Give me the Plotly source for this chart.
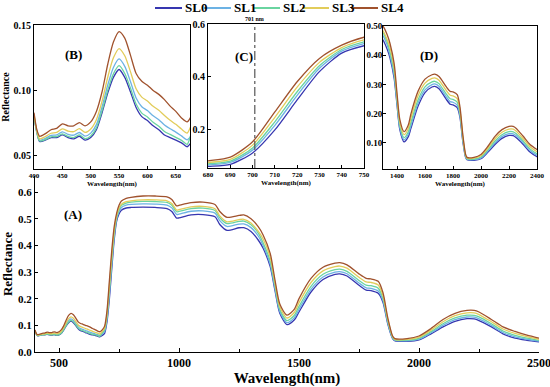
import plotly.graph_objects as go

wavelength = [400, 405, 410, 420, 430, 440, 450, 460, 470, 480, 490, 500, 510, 520, 530, 540, 550, 560, 570, 580,
              590, 600, 610, 620, 630, 640, 650, 660, 670, 680, 690, 700, 710, 720, 730, 740, 750, 760, 780, 800,
              850, 900, 950, 970, 990, 1000, 1050, 1100, 1150, 1170, 1200, 1250, 1270, 1300, 1330, 1350, 1380, 1400,
              1420, 1450, 1480, 1500, 1550, 1600, 1650, 1670, 1700, 1750, 1780, 1800, 1830, 1850, 1870, 1890, 1900,
              1950, 2000, 2050, 2100, 2150, 2200, 2230, 2250, 2300, 2350, 2400, 2450, 2500]

SL0 = [0.080, 0.068, 0.061, 0.062, 0.064, 0.064, 0.066, 0.064, 0.063, 0.065, 0.062, 0.064, 0.070, 0.083, 0.098, 0.110,
       0.116, 0.110, 0.099, 0.087, 0.080, 0.077, 0.073, 0.070, 0.066, 0.064, 0.062, 0.060, 0.057, 0.062, 0.070, 0.113,
       0.200, 0.313, 0.420, 0.490, 0.518, 0.532, 0.540, 0.542, 0.543, 0.542, 0.538, 0.527, 0.502, 0.503, 0.514, 0.515,
       0.507, 0.478, 0.456, 0.466, 0.466, 0.452, 0.420, 0.390, 0.320, 0.230, 0.145, 0.103, 0.120, 0.150, 0.225, 0.272,
       0.291, 0.293, 0.285, 0.250, 0.232, 0.230, 0.220, 0.186, 0.105, 0.050, 0.042, 0.040, 0.045, 0.068, 0.094, 0.115,
       0.125, 0.124, 0.118, 0.095, 0.068, 0.052, 0.044, 0.038]

SL1 = [0.081, 0.069, 0.062, 0.0634, 0.0657, 0.066, 0.0684, 0.0665, 0.0658, 0.0679, 0.0651, 0.0674, 0.0739, 0.0875,
       0.1042, 0.1176, 0.1241, 0.1184, 0.1068, 0.0943, 0.0876, 0.0846, 0.0806, 0.0776, 0.0736, 0.0707, 0.0682, 0.0653,
       0.0623, 0.0673, 0.0768, 0.1235, 0.217, 0.3303, 0.4325, 0.4975, 0.526, 0.5422, 0.5508, 0.5534, 0.5556, 0.5549,
       0.5512, 0.5405, 0.5158, 0.5171, 0.5278, 0.5291, 0.5208, 0.4927, 0.4707, 0.4798, 0.4804, 0.4664, 0.435, 0.400,
       0.330, 0.238, 0.152, 0.110, 0.128, 0.160, 0.2352, 0.2812, 0.2994, 0.3014, 0.2934, 0.2586, 0.2408, 0.2388, 0.229,
       0.1932, 0.1096, 0.052, 0.0436, 0.042, 0.048, 0.072, 0.0996, 0.121, 0.1312, 0.1304, 0.1244, 0.1006, 0.0732, 0.057,
       0.0478, 0.0408]

SL2 = [0.080, 0.068, 0.0614, 0.0625, 0.0646, 0.0647, 0.0669, 0.0649, 0.064, 0.066, 0.0631, 0.0652, 0.0714, 0.0846,
       0.1002, 0.1127, 0.1189, 0.113, 0.1018, 0.0896, 0.0827, 0.0797, 0.0757, 0.0727, 0.0687, 0.0664, 0.0642, 0.0619,
       0.0589, 0.0715, 0.0822, 0.1319, 0.2306, 0.344, 0.4425, 0.5035, 0.5324, 0.5497, 0.5587, 0.5618, 0.5648, 0.5644,
       0.5609, 0.5504, 0.5259, 0.5274, 0.5379, 0.5394, 0.5309, 0.5035, 0.4815, 0.4899, 0.491, 0.477, 0.446, 0.411,
       0.341, 0.2468, 0.1597, 0.1177, 0.1368, 0.171, 0.2464, 0.2913, 0.3086, 0.3106, 0.3026, 0.2681, 0.2505, 0.2485,
       0.2389, 0.2011, 0.1147, 0.0542, 0.0454, 0.0442, 0.0513, 0.0764, 0.1058, 0.1276, 0.138, 0.1374, 0.1314, 0.1068,
       0.0789, 0.0625, 0.052, 0.0439]

SL3 = [0.082, 0.069, 0.063, 0.0648, 0.0673, 0.0679, 0.0707, 0.069, 0.0685, 0.0708, 0.068, 0.0706, 0.0777, 0.0918,
       0.1101, 0.1249, 0.132, 0.1265, 0.1144, 0.1013, 0.0949, 0.0919, 0.0879, 0.0849, 0.0809, 0.0772, 0.0741, 0.0705,
       0.0675, 0.0767, 0.0889, 0.1424, 0.2476, 0.3613, 0.455, 0.511, 0.5404, 0.5544, 0.5638, 0.5671, 0.5707, 0.5704,
       0.567, 0.5567, 0.5324, 0.534, 0.5444, 0.546, 0.5374, 0.5103, 0.4883, 0.4964, 0.4977, 0.4837, 0.453, 0.425,
       0.355, 0.258, 0.1695, 0.1275, 0.148, 0.185, 0.2607, 0.3042, 0.3204, 0.3224, 0.3144, 0.2801, 0.2628, 0.2608,
       0.2515, 0.2112, 0.1211, 0.057, 0.0476, 0.047, 0.0555, 0.082, 0.1136, 0.136, 0.1467, 0.1464, 0.1404, 0.1146,
       0.0862, 0.0695, 0.0573, 0.0478]

SL4 = [0.083, 0.070, 0.065, 0.067, 0.070, 0.071, 0.0745, 0.073, 0.073, 0.0755, 0.073, 0.076, 0.084, 0.099, 0.120, 0.137,
       0.145, 0.140, 0.127, 0.113, 0.107, 0.104, 0.100, 0.097, 0.093, 0.088, 0.084, 0.079, 0.076, 0.083, 0.097, 0.155,
       0.268, 0.382, 0.470, 0.520, 0.550, 0.566, 0.576, 0.580, 0.585, 0.585, 0.582, 0.572, 0.548, 0.550, 0.560, 0.562,
       0.553, 0.527, 0.505, 0.512, 0.514, 0.500, 0.470, 0.440, 0.370, 0.270, 0.180, 0.138, 0.160, 0.200, 0.276, 0.318,
       0.333, 0.335, 0.327, 0.293, 0.276, 0.274, 0.265, 0.222, 0.128, 0.060, 0.050, 0.050, 0.060, 0.088, 0.122, 0.145,
       0.156, 0.156, 0.150, 0.123, 0.094, 0.077, 0.063, 0.052]

series_names = ["SL0", "SL1", "SL2", "SL3", "SL4"]
series_values = [SL0, SL1, SL2, SL3, SL4]
colors = ["#3636b0", "#6cb2e4", "#6ad4a0", "#e2cc5a", "#a0522d"]
marker_wl = 701

FONT = "Liberation Serif"
W, H = 550, 387


def dom_x(a, b):
    return [a / W, b / W]


def dom_y(top, bottom):
    return [1 - bottom / H, 1 - top / H]


fig = go.Figure()
axes = ["", "2", "3", "4"]
for k in axes:
    for name, vals, col in zip(series_names, series_values, colors):
        fig.add_trace(go.Scatter(
            x=wavelength, y=vals, name=name, legendgroup=name, mode="lines",
            xaxis="x" + k, yaxis="y" + k,
            line=dict(color=col, width=1.3, shape="spline", smoothing=0.7),
            showlegend=False, hoverinfo="skip"))

bold = dict(family=FONT, color="black", weight="bold")


def axis_common(**kw):
    d = dict(showline=True, linecolor="black", linewidth=1, ticks="inside", tickcolor="black",
             ticklen=3, showgrid=False, zeroline=False, automargin=False, ticklabeloverflow="allow")
    d.update(kw)
    return d


fig.update_layout(
    width=W, height=H, margin=dict(l=0, r=0, t=0, b=0, autoexpand=False),
    paper_bgcolor="white", plot_bgcolor="white",
    font=dict(family=FONT, color="black"),
    showlegend=False,
    # main panel (A)
    xaxis=axis_common(domain=dom_x(35, 539), range=[400, 2500], anchor="y",
                      tickvals=[500, 1000, 1500, 2000, 2500], ticklen=4,
                      tickfont=dict(size=12, **bold),
                      minor=dict(tickvals=[750, 1250, 1750, 2250], ticks="inside", ticklen=3, tickcolor="black"),
                      title=dict(text="Wavelength(nm)", font=dict(size=15, **bold), standoff=4)),
    yaxis=axis_common(domain=dom_y(176, 352), range=[0, 0.66], anchor="x",
                      tickvals=[0, 0.1, 0.2, 0.3, 0.4, 0.5, 0.6], tickformat=".1f",
                      tickfont=dict(size=11, **bold),
                      title=dict(text="Reflectance", font=dict(size=13, **bold), standoff=4)),
    # inset (B)
    xaxis2=axis_common(domain=dom_x(34, 190), range=[400, 675], anchor="y2", mirror=True,
                       tickvals=[400, 450, 500, 550, 600, 650], tickfont=dict(size=7, **bold),
                       title=dict(text="Wavelength(nm)", font=dict(size=7, **bold), standoff=1)),
    yaxis2=axis_common(domain=dom_y(25, 169), range=[0.04, 0.15], anchor="x2", mirror=True,
                       tickvals=[0.05, 0.10, 0.15], tickformat=".2f", tickfont=dict(size=10, **bold),
                       title=dict(text="Reflectance", font=dict(size=10, **bold), standoff=3)),
    # inset (C)
    xaxis3=axis_common(domain=dom_x(208, 364), range=[680, 750], anchor="y3", mirror=True,
                       tickvals=[680, 690, 700, 710, 720, 730, 740, 750], tickfont=dict(size=7, **bold),
                       title=dict(text="Wavelength(nm)", font=dict(size=7, **bold), standoff=1)),
    yaxis3=axis_common(domain=dom_y(24, 168), range=[0.056, 0.6], anchor="x3", mirror=True,
                       tickvals=[0.2, 0.4, 0.6], tickformat=".1f", tickfont=dict(size=10, **bold)),
    # inset (D)
    xaxis4=axis_common(domain=dom_x(383, 537), range=[1300, 2400], anchor="y4", mirror=True,
                       tickvals=[1400, 1600, 1800, 2000, 2200, 2400], tickfont=dict(size=7, **bold),
                       title=dict(text="Wavelength(nm)", font=dict(size=7, **bold), standoff=1)),
    yaxis4=axis_common(domain=dom_y(26, 169), range=[0.01, 0.5], anchor="x4", mirror=True,
                       tickvals=[0.10, 0.20, 0.30, 0.40, 0.50], tickformat=".2f",
                       tickfont=dict(size=9, **bold), ticklabelstandoff=-2),
)

# legend row drawn at the top (line sample + bold label for each series)
leg_x0, leg_pitch, leg_line, leg_y = 155 / W, 49 / W, 27 / W, 1 - 8 / H
for i, (name, col) in enumerate(zip(series_names, colors)):
    x0 = leg_x0 + i * leg_pitch
    fig.add_shape(type="line", xref="paper", yref="paper", x0=x0, x1=x0 + leg_line, y0=leg_y, y1=leg_y,
                  line=dict(color=col, width=2))
    fig.add_annotation(text=name, xref="paper", yref="paper", x=x0 + leg_line + 1 / W, y=leg_y,
                       xanchor="left", yanchor="middle", showarrow=False,
                       font=dict(size=13, **bold))

# 701 nm marker in (C)
fig.add_shape(type="line", xref="x3", yref="y3 domain", x0=marker_wl, x1=marker_wl, y0=0, y1=1,
              line=dict(color="#555555", width=1.2, dash="dashdot"))
fig.add_annotation(x=marker_wl, xref="x3", y=1, yref="y3 domain", yanchor="bottom", showarrow=False,
                   text=f"{marker_wl} nm", font=dict(size=6, **bold), yshift=0)

panel_labels = [("(A)", "x domain", "y domain", 0.054, 0.835),
                ("(B)", "x2 domain", "y2 domain", 0.186, 0.86),
                ("(C)", "x3 domain", "y3 domain", 0.16, 0.84),
                ("(D)", "x4 domain", "y4 domain", 0.227, 0.86)]
for txt, xr, yr, xx, yy in panel_labels:
    fig.add_annotation(text=txt, xref=xr, yref=yr, x=xx, y=yy, showarrow=False,
                       font=dict(size=13, **bold))

fig.write_html("out.html", config={"displayModeBar": False},
               post_script="document.body.style.margin='0px';document.body.style.padding='0px';")
